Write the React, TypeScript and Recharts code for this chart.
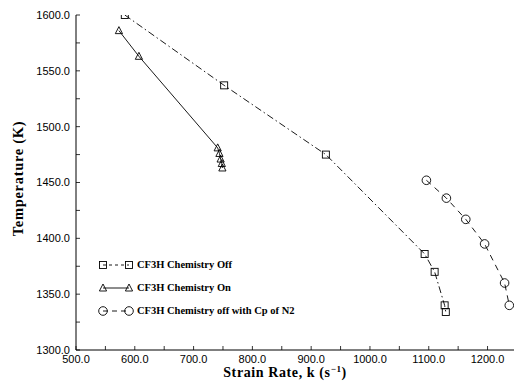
import React from 'react';
import { LineChart, Line, XAxis, YAxis, Legend, Label } from 'recharts';

// CF3H Chemistry Off (squares)
const offStrain = [583, 752, 925, 1093, 1110, 1127, 1129];
const offTemp = [1600, 1537, 1475, 1386, 1370, 1340, 1334];
// CF3H Chemistry On (triangles)
const onStrain = [573, 607, 741, 744, 746, 748, 749];
const onTemp = [1586, 1563, 1481, 1476, 1471, 1467, 1463];
// CF3H Chemistry off with Cp of N2 (circles)
const cpStrain = [1096, 1130, 1163, 1195, 1229, 1237];
const cpTemp = [1452, 1436, 1417, 1395, 1360, 1340];

const seriesNames = ['CF3H Chemistry Off', 'CF3H Chemistry On', 'CF3H Chemistry off with Cp of N2'];

const xTicks = [500, 550, 600, 650, 700, 750, 800, 850, 900, 950, 1000, 1050, 1100, 1150, 1200];
const xTopTicks = [600, 700, 800, 900, 1000, 1100, 1200];
const yTicks = [1300, 1325, 1350, 1375, 1400, 1425, 1450, 1475, 1500, 1525, 1550, 1575, 1600];
const yRightTicks = [1350, 1400, 1450, 1500, 1550];

const zip = (xs: number[], ys: number[]) => xs.map((x, i) => ({ x, y: ys[i] }));
const offData = zip(offStrain, offTemp);
const onData = zip(onStrain, onTemp);
const cpData = zip(cpStrain, cpTemp);

type Kind = 'square' | 'triangle' | 'circle';

const Marker = ({ kind, cx, cy }: { kind: Kind; cx: number; cy: number }) => {
  const common = { fill: 'none', stroke: '#000', strokeWidth: 0.9 };
  if (kind === 'square') return <rect x={cx - 3.5} y={cy - 3.5} width={7} height={7} {...common} />;
  if (kind === 'triangle')
    return <polygon points={`${cx},${cy - 4} ${cx - 3.6},${cy + 3} ${cx + 3.6},${cy + 3}`} {...common} />;
  return <circle cx={cx} cy={cy} r={4.3} {...common} />;
};

const makeDot = (kind: Kind) => (p: any) => (
  <Marker key={`${kind}-${p.index}`} kind={kind} cx={p.cx} cy={p.cy} />
);

const tickFont = { fontFamily: '"Liberation Sans", Arial, sans-serif', fontSize: 11, fill: '#000' };
const titleFont = '"Liberation Serif", "Times New Roman", serif';

const legendRows: { kind: Kind; dash?: string }[] = [
  { kind: 'square', dash: '3 3' },
  { kind: 'triangle' },
  { kind: 'circle', dash: '5 4' },
];

const LegendContent = () => (
  <div style={{ display: 'flex', flexDirection: 'column' }}>
    {legendRows.map((r, i) => (
      <div key={i} style={{ display: 'flex', alignItems: 'center', height: 23 }}>
        <svg width={38} height={12} style={{ display: 'block' }}>
          <line x1={5} y1={6} x2={31} y2={6} stroke="#000" strokeWidth={0.9} strokeDasharray={r.dash} />
          <Marker kind={r.kind} cx={5} cy={6} />
          <Marker kind={r.kind} cx={31} cy={6} />
        </svg>
        <span
          style={{
            fontFamily: titleFont,
            fontWeight: 'bold',
            fontSize: 10.5,
            color: '#000',
            whiteSpace: 'nowrap',
            marginLeft: 1,
          }}
        >
          {seriesNames[i]}
        </span>
      </div>
    ))}
  </div>
);

const XTitle = (props: any) => {
  const vb = props.viewBox;
  const cx = vb.x + vb.width / 2 - 10;
  return (
    <text
      x={cx}
      y={vb.y + 27}
      textAnchor="middle"
      fontFamily={titleFont}
      fontWeight="bold"
      fontSize={14}
      letterSpacing={0.6}
      fill="#000"
    >
      Strain Rate, k (s
      <tspan dy={-5} fontSize={9}>
        −1
      </tspan>
      <tspan dy={5}>)</tspan>
    </text>
  );
};

const YTitle = (props: any) => {
  const vb = props.viewBox;
  const cx = 18;
  const cy = vb.y + vb.height / 2 - 4;
  return (
    <text
      x={cx}
      y={cy}
      transform={`rotate(-90 ${cx} ${cy})`}
      textAnchor="middle"
      dominantBaseline="central"
      fontFamily={titleFont}
      fontWeight="bold"
      fontSize={14.5}
      letterSpacing={0.7}
      fill="#000"
    >
      Temperature (K)
    </text>
  );
};

const fmt = (v: number) => v.toFixed(1);
const fmtX = (v: number) => (v % 100 === 0 ? v.toFixed(1) : '');
const fmtY = (v: number) => (v % 50 === 0 ? v.toFixed(1) : '');

export default function App() {
  return (
    <div style={{ position: 'absolute', left: 0, top: 0, width: 515, height: 387, background: '#fff' }}>
      <LineChart width={515} height={387} margin={{ top: 15, right: 1, bottom: 0, left: 0 }}>
        <XAxis
          type="number"
          dataKey="x"
          domain={[500, 1245]}
          allowDataOverflow
          ticks={xTicks}
          tickFormatter={fmtX}
          interval={0}
          height={37}
          tickSize={-4}
          tickMargin={9}
          tick={tickFont}
          axisLine={{ stroke: '#000', strokeWidth: 1 }}
          tickLine={{ stroke: '#000', strokeWidth: 0.8 }}
        >
          <Label content={XTitle} />
        </XAxis>
        <XAxis
          xAxisId="top"
          orientation="top"
          type="number"
          domain={[500, 1245]}
          allowDataOverflow
          ticks={xTopTicks}
          interval={0}
          height={0}
          tick={false}
          tickSize={-4}
          axisLine={{ stroke: '#000', strokeWidth: 1 }}
          tickLine={{ stroke: '#000', strokeWidth: 0.8 }}
        />
        <YAxis
          type="number"
          domain={[1300, 1600]}
          allowDataOverflow
          ticks={yTicks}
          tickFormatter={fmtY}
          interval={0}
          width={76}
          tickSize={-4}
          tickMargin={10}
          tick={tickFont}
          axisLine={{ stroke: '#000', strokeWidth: 1 }}
          tickLine={{ stroke: '#000', strokeWidth: 0.8 }}
        >
          <Label content={YTitle} />
        </YAxis>
        <YAxis
          yAxisId="r"
          orientation="right"
          type="number"
          domain={[1300, 1600]}
          allowDataOverflow
          ticks={yRightTicks}
          interval={0}
          width={0}
          tick={false}
          tickSize={-4}
          axisLine={{ stroke: '#000', strokeWidth: 1 }}
          tickLine={{ stroke: '#000', strokeWidth: 0.8 }}
        />
        <Legend
          layout="vertical"
          align="center"
          verticalAlign="middle"
          content={LegendContent}
          wrapperStyle={{ position: 'absolute', left: 98, top: 253, width: 'auto', height: 'auto' }}
        />
        <Line
          data={offData}
          dataKey="y"
          name={seriesNames[0]}
          type="linear"
          stroke="#000"
          strokeWidth={0.9}
          strokeDasharray="7 3 1.5 3"
          dot={makeDot('square')}
          activeDot={false}
          isAnimationActive={false}
        />
        <Line
          data={onData}
          dataKey="y"
          name={seriesNames[1]}
          type="linear"
          stroke="#000"
          strokeWidth={0.9}
          dot={makeDot('triangle')}
          activeDot={false}
          isAnimationActive={false}
        />
        <Line
          data={cpData}
          dataKey="y"
          name={seriesNames[2]}
          type="linear"
          stroke="#000"
          strokeWidth={0.9}
          strokeDasharray="6 5"
          dot={makeDot('circle')}
          activeDot={false}
          isAnimationActive={false}
        />
      </LineChart>
    </div>
  );
}
